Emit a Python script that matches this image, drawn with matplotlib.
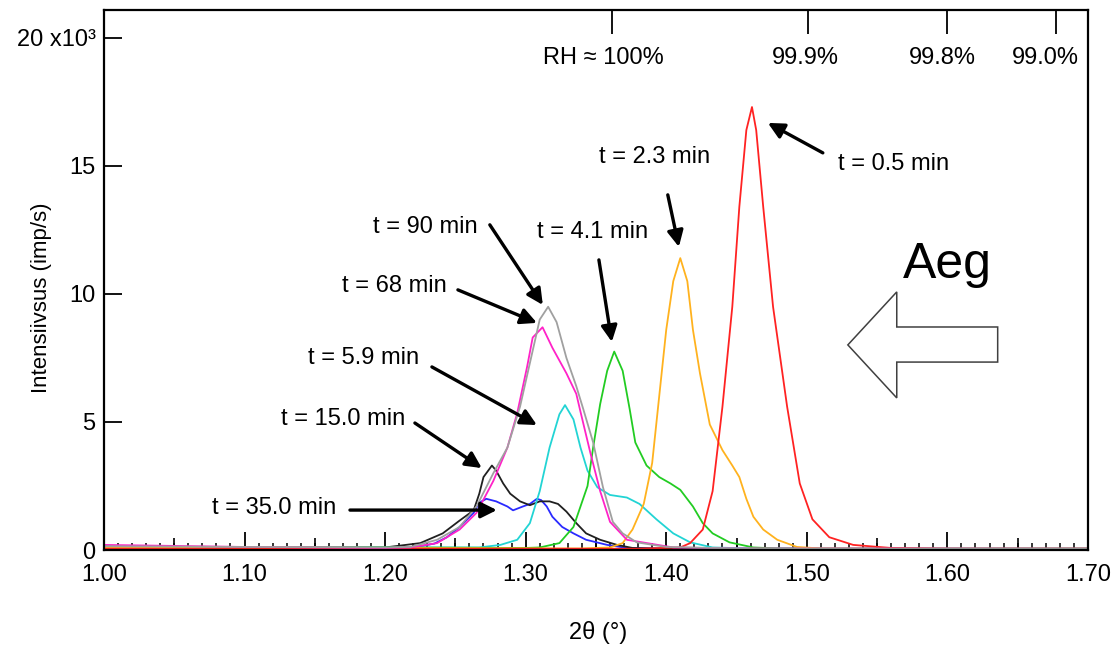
import matplotlib
matplotlib.use("Agg")
import matplotlib.pyplot as plt
from matplotlib.patches import Polygon

plt.rcParams["font.family"] = ["Liberation Sans", "DejaVu Sans"]

# Diffraction peaks (2theta in degrees, intensity in 10^3 imp/s)
X_05 = [1.00, 1.20, 1.38, 1.41, 1.417, 1.426, 1.433, 1.440, 1.447, 1.452, 1.457, 1.461,
        1.464, 1.469, 1.476, 1.486, 1.495, 1.504, 1.516, 1.533, 1.56, 1.60, 1.70]
Y_05 = [0.05, 0.05, 0.05, 0.1, 0.27, 0.8, 2.3, 5.6, 9.5, 13.4, 16.4, 17.3,
        16.4, 13.4, 9.5, 5.6, 2.6, 1.2, 0.5, 0.2, 0.08, 0.05, 0.05]

X_23 = [1.00, 1.20, 1.34, 1.36, 1.369, 1.376, 1.384, 1.390, 1.395, 1.400, 1.405, 1.410,
        1.415, 1.419, 1.424, 1.431, 1.440, 1.447, 1.452, 1.457, 1.462, 1.469, 1.479,
        1.493, 1.51, 1.55, 1.70]
Y_23 = [0.1, 0.08, 0.06, 0.1, 0.27, 0.8, 1.8, 3.4, 6.0, 8.6, 10.5, 11.4,
        10.5, 8.6, 6.9, 4.9, 3.9, 3.3, 2.85, 2.0, 1.3, 0.8, 0.4,
        0.12, 0.06, 0.05, 0.05]

X_41 = [1.00, 1.20, 1.30, 1.31, 1.324, 1.334, 1.339, 1.344, 1.348, 1.353, 1.358, 1.363,
        1.369, 1.374, 1.378, 1.386, 1.395, 1.403, 1.410, 1.419, 1.426, 1.433, 1.445,
        1.462, 1.48, 1.52, 1.70]
Y_41 = [0.12, 0.1, 0.08, 0.1, 0.27, 0.9, 1.7, 2.5, 4.0, 5.7, 7.0, 7.75,
        7.0, 5.5, 4.2, 3.3, 2.85, 2.6, 2.35, 1.7, 1.05, 0.65, 0.3,
        0.1, 0.06, 0.05, 0.05]

X_59 = [1.00, 1.20, 1.267, 1.282, 1.294, 1.303, 1.310, 1.317, 1.324, 1.328, 1.334, 1.339,
        1.344, 1.351, 1.360, 1.372, 1.381, 1.393, 1.405, 1.417, 1.433, 1.46, 1.52, 1.70]
Y_59 = [0.12, 0.1, 0.1, 0.2, 0.4, 1.05, 2.3, 4.0, 5.3, 5.66, 5.1, 4.0,
        3.1, 2.45, 2.15, 2.05, 1.8, 1.2, 0.65, 0.3, 0.1, 0.06, 0.05, 0.05]

X_68 = [1.00, 1.10, 1.20, 1.218, 1.237, 1.253, 1.265, 1.277, 1.287, 1.294, 1.301, 1.305,
        1.312, 1.319, 1.329, 1.336, 1.339, 1.346, 1.353, 1.360, 1.372, 1.405, 1.45, 1.70]
Y_68 = [0.2, 0.12, 0.08, 0.1, 0.27, 0.8, 1.45, 2.7, 4.0, 5.35, 7.15, 8.3,
        8.7, 7.9, 6.9, 6.1, 5.4, 3.8, 2.3, 1.1, 0.4, 0.1, 0.06, 0.05]

X_90 = [1.00, 1.10, 1.20, 1.218, 1.237, 1.253, 1.265, 1.277, 1.287, 1.296, 1.303, 1.310,
        1.316, 1.322, 1.329, 1.336, 1.341, 1.348, 1.355, 1.362, 1.369, 1.379, 1.40, 1.45, 1.70]
Y_90 = [0.15, 0.12, 0.1, 0.12, 0.4, 0.9, 1.7, 3.0, 4.0, 5.6, 7.3, 9.0,
        9.5, 8.9, 7.5, 6.4, 5.5, 4.2, 2.45, 1.1, 0.65, 0.3, 0.12, 0.06, 0.05]

X_15 = [1.00, 1.10, 1.20, 1.225, 1.241, 1.253, 1.263, 1.267, 1.270, 1.276, 1.279, 1.284,
        1.289, 1.296, 1.303, 1.310, 1.317, 1.323, 1.329, 1.336, 1.343, 1.353, 1.365,
        1.376, 1.40, 1.70]
Y_15 = [0.15, 0.1, 0.1, 0.27, 0.65, 1.15, 1.55, 2.2, 2.85, 3.3, 3.1, 2.6,
        2.2, 1.9, 1.75, 1.9, 1.9, 1.8, 1.5, 1.05, 0.65, 0.4, 0.2,
        0.08, 0.05, 0.05]

X_35 = [1.00, 1.10, 1.20, 1.22, 1.235, 1.244, 1.253, 1.263, 1.267, 1.272, 1.279, 1.287,
        1.291, 1.298, 1.303, 1.308, 1.311, 1.315, 1.319, 1.326, 1.334, 1.343, 1.358,
        1.372, 1.40, 1.70]
Y_35 = [0.12, 0.1, 0.08, 0.1, 0.25, 0.5, 0.9, 1.45, 1.85, 2.0, 1.9, 1.7,
        1.55, 1.7, 1.8, 2.0, 1.95, 1.7, 1.3, 0.9, 0.65, 0.4, 0.2,
        0.08, 0.05, 0.05]

# Relative humidity marks on the top axis
RH_TICKS = [1.3613, 1.5007, 1.5996, 1.6771]
RH_LABELS = ["RH \u2248 100%", "99.9%", "99.8%", "99.0%"]
RH_LABEL_X = [1.3556, 1.4993, 1.5967, 1.6700]

X_TICKS = [1.00, 1.10, 1.20, 1.30, 1.40, 1.50, 1.60, 1.70]
X_TICK_LABELS = ["1.00", "1.10", "1.20", "1.30", "1.40", "1.50", "1.60", "1.70"]
Y_TICKS = [0, 5, 10, 15, 20]
Y_TICK_LABELS = ["0", "5", "10", "15", "20 x10\u00b3"]


def main():
    fig = plt.figure(figsize=(11.18, 6.48), dpi=100)
    ax = fig.add_axes([0.093, 0.1512, 0.8801, 0.8334])

    curves = [
        (X_35, Y_35, "#2a2aff"),
        (X_15, Y_15, "#202020"),
        (X_59, Y_59, "#22d4d4"),
        (X_41, Y_41, "#22cc22"),
        (X_23, Y_23, "#ffb21e"),
        (X_05, Y_05, "#ff2222"),
        (X_68, Y_68, "#ff22c8"),
        (X_90, Y_90, "#a0a0a0"),
    ]
    for xs, ys, col in curves:
        ax.plot(xs, ys, color=col, lw=1.3, solid_joinstyle="round")

    ax.set_xlim(1.0, 1.7)
    ax.set_ylim(0, 21.09)

    ax.set_xticks(X_TICKS)
    ax.set_xticklabels(X_TICK_LABELS)
    ax.set_xticks([1.0 + 0.01 * i for i in range(71)], minor=True)
    ax.set_yticks(Y_TICKS)
    ax.set_yticklabels(Y_TICK_LABELS)
    ax.tick_params(axis="x", which="major", direction="in", length=13, width=1.3,
                   labelsize=17, pad=10)
    ax.tick_params(axis="x", which="minor", direction="in", length=5, width=1.1)
    ax.tick_params(axis="y", which="major", direction="in", length=13, width=1.3,
                   labelsize=17, pad=6)
    for sp in ax.spines.values():
        sp.set_linewidth(1.6)

    # medium ticks every 0.05
    mid = ax.secondary_xaxis("bottom")
    mid.set_xticks([1.05, 1.15, 1.25, 1.35, 1.45, 1.55, 1.65])
    mid.tick_params(direction="in", length=9, width=1.2, labelbottom=False)
    mid.spines["bottom"].set_visible(False)

    # RH ticks on the top axis
    top = ax.secondary_xaxis("top")
    top.set_xticks(RH_TICKS)
    top.tick_params(direction="in", length=17, width=1.3, labeltop=False)
    top.spines["top"].set_visible(False)
    for xpos, lab in zip(RH_LABEL_X, RH_LABELS):
        ax.text(xpos, 0.912, lab, transform=ax.get_xaxis_transform(),
                ha="center", va="center", fontsize=17)

    ax.set_xlabel("2\u03b8 (\u00b0)", fontsize=17, va="center")
    ax.xaxis.set_label_coords(0.502, -0.152)
    ax.set_ylabel("Intensiivsus (imp/s)", fontsize=16, va="center")
    ax.yaxis.set_label_coords(-0.063, 0.468)

    # labels with arrows: text, text position, alignment, arrow start, arrow tip
    notes = [
        ("t = 0.5 min", (1.5220, 15.08), "left", (1.5114, 15.51), (1.4723, 16.68)),
        ("t = 2.3 min", (1.4310, 15.35), "right", (1.4011, 13.87), (1.4090, 11.84)),
        ("t = 4.1 min", (1.3869, 12.42), "right", (1.3521, 11.33), (1.3613, 8.13)),
        ("t = 90 min", (1.2660, 12.62), "right", (1.2745, 12.70), (1.3122, 9.57)),
        ("t = 68 min", (1.2440, 10.31), "right", (1.2518, 10.16), (1.3080, 8.87)),
        ("t = 5.9 min", (1.2240, 7.50), "right", (1.2333, 7.15), (1.3080, 4.88)),
        ("t = 15.0 min", (1.2141, 5.12), "right", (1.2212, 4.96), (1.2688, 3.20)),
        ("t = 35.0 min", (1.1650, 1.64), "right", (1.1750, 1.56), (1.2795, 1.56)),
    ]
    for txt, pos, ha, start, tip in notes:
        ax.text(pos[0], pos[1], txt, ha=ha, va="center", fontsize=17)
        ax.annotate("", xy=tip, xytext=start,
                    arrowprops=dict(arrowstyle="-|>", color="black", lw=2.4,
                                    mutation_scale=24, shrinkA=0, shrinkB=0))

    # time direction: hollow arrow pointing to lower angles
    ax.text(1.5683, 11.13, "Aeg", ha="left", va="center", fontsize=36)
    arrow = Polygon([(1.5292, 8.01), (1.5640, 10.08), (1.5640, 8.71), (1.6358, 8.71),
                     (1.6358, 7.34), (1.5640, 7.34), (1.5640, 5.94)],
                    closed=True, facecolor="white", edgecolor="#404040", lw=1.1)
    ax.add_patch(arrow)

    fig.savefig("out.png", dpi=100)


if __name__ == "__main__":
    main()
